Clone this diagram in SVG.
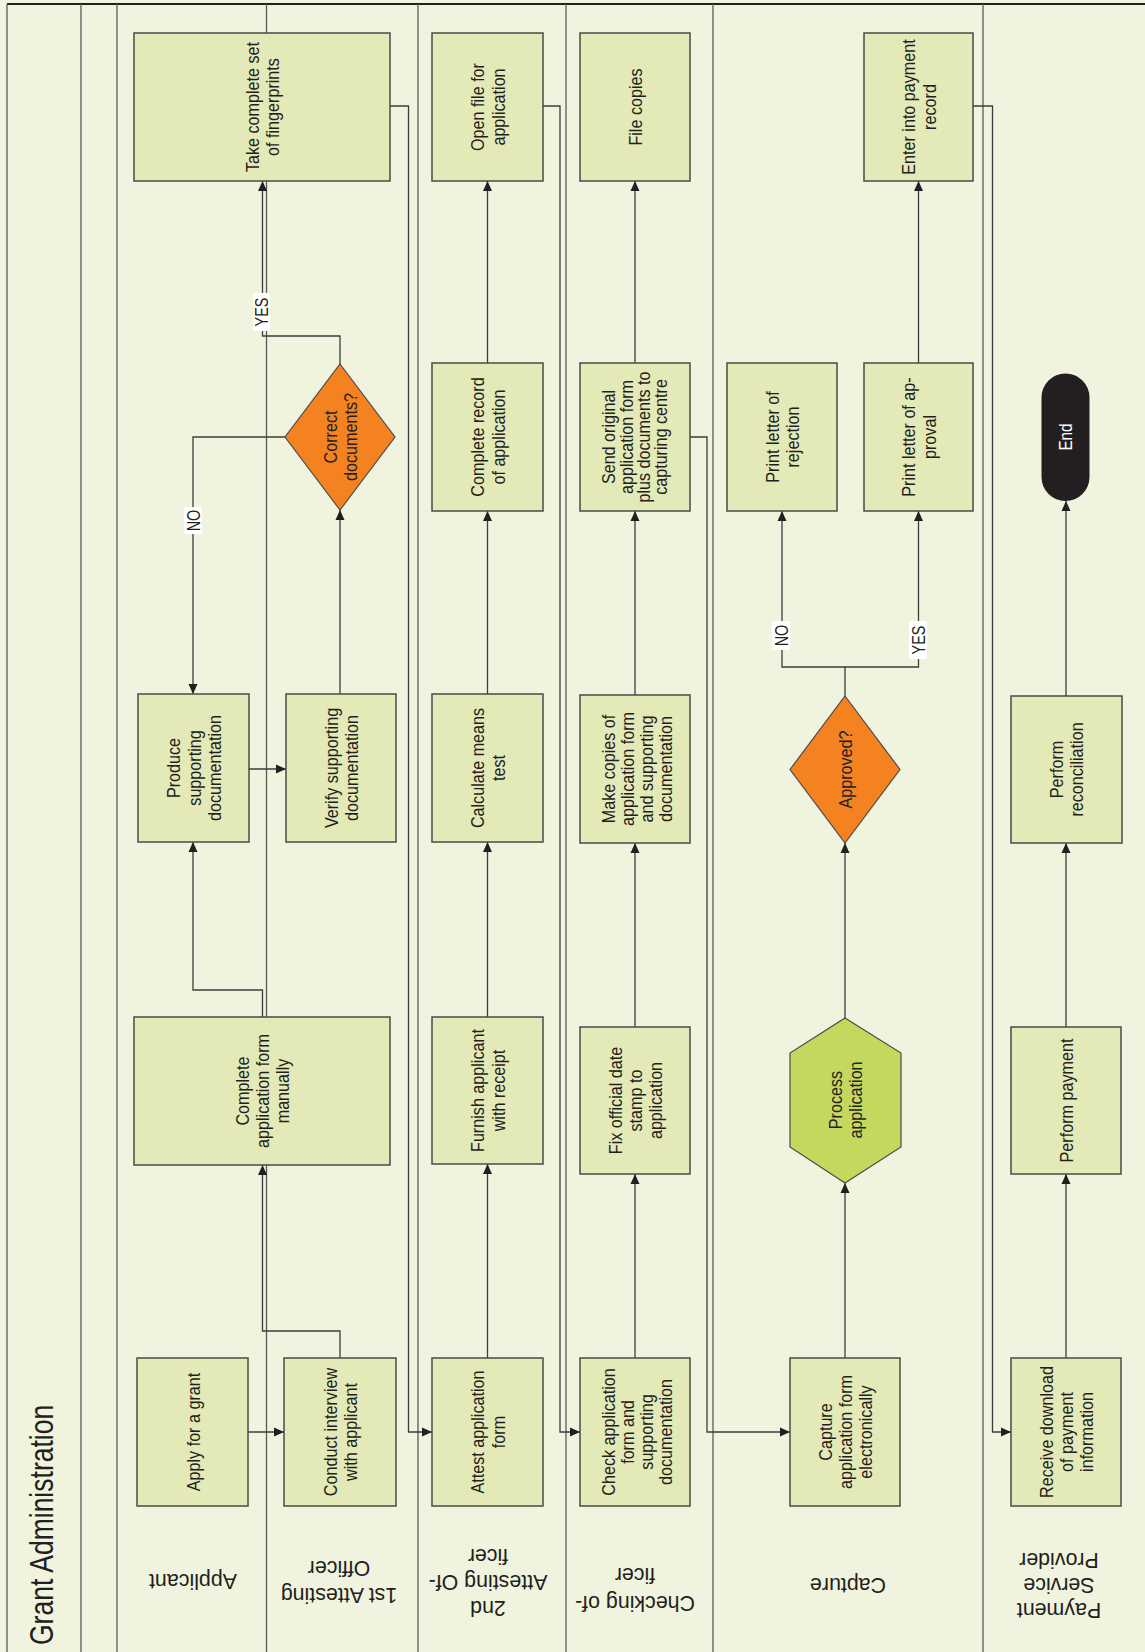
<svg xmlns="http://www.w3.org/2000/svg" width="1145" height="1652" viewBox="0 0 1145 1652">
<style>
.bg{fill:#f0f4de}
.lane{stroke:#5a5a5a;stroke-width:1.3;fill:none}
.box{fill:#e3e9b7;stroke:#4a4a4a;stroke-width:1.5}
.dec{fill:#f58220;stroke:#4a4a4a;stroke-width:1.2}
.hex{fill:#c5d85e;stroke:#4a4a4a;stroke-width:1.2}
.end{fill:#231f20}
.nt{font-family:"Liberation Sans",Arial,sans-serif;font-size:19px;fill:#231f20;text-anchor:middle}
.et{font-family:"Liberation Sans",Arial,sans-serif;font-size:18px;fill:#ffffff;text-anchor:middle}
.lt{font-family:"Liberation Sans",Arial,sans-serif;font-size:23px;fill:#231f20;text-anchor:middle}
.tt{font-family:"Liberation Sans",Arial,sans-serif;font-size:34px;fill:#231f20}
.cl{font-family:"Liberation Sans",Arial,sans-serif;font-size:18px;fill:#231f20;text-anchor:middle}
.cn{fill:none;stroke:#3c3c3c;stroke-width:1.3;marker-end:url(#arr)}
.lb{fill:#ffffff}
</style>
<defs>
<marker id="arr" viewBox="0 0 10 10" refX="10" refY="5" markerWidth="10" markerHeight="10" markerUnits="userSpaceOnUse" orient="auto">
<path d="M0,0.5 L10,5 L0,9.5 z" fill="#231f20"/>
</marker>
</defs>
<rect class="bg" x="0" y="0" width="1145" height="1652"/>

<g id="lanes">
<line class="lane" x1="7" y1="4" x2="1145" y2="4" style="stroke:#231f20;stroke-width:2"/>
<line class="lane" x1="7" y1="4" x2="7" y2="1652"/>
<line class="lane" x1="81" y1="4" x2="81" y2="1652"/>
<line class="lane" x1="117" y1="4" x2="117" y2="1652"/>
<line class="lane" x1="266.5" y1="4" x2="266.5" y2="1652"/>
<line class="lane" x1="418" y1="4" x2="418" y2="1652"/>
<line class="lane" x1="566" y1="4" x2="566" y2="1652"/>
<line class="lane" x1="713" y1="4" x2="713" y2="1652"/>
<line class="lane" x1="983" y1="4" x2="983" y2="1652"/>
</g>

<g id="title">
<text class="tt" transform="translate(52.5,1645) rotate(-90) scale(0.78,1)">Grant Administration</text>
</g>

<g id="lane-labels">
<text class="lt" transform="translate(193,1582) rotate(180) scale(0.93,1)"><tspan x="0" y="8">Applicant</tspan></text>
<text class="lt" transform="translate(339,1596) rotate(180) scale(0.93,1)"><tspan x="0" y="8">1st Attesting</tspan><tspan x="0" y="35">Officer</tspan></text>
<text class="lt" transform="translate(488,1609) rotate(180) scale(0.93,1)"><tspan x="0" y="8">2nd</tspan><tspan x="0" y="34">Attesting Of-</tspan><tspan x="0" y="60">ficer</tspan></text>
<text class="lt" transform="translate(635,1604) rotate(180) scale(0.93,1)"><tspan x="0" y="8">Checking of-</tspan><tspan x="0" y="36">ficer</tspan></text>
<text class="lt" transform="translate(848,1586) rotate(180) scale(0.93,1)"><tspan x="0" y="8">Capture</tspan></text>
<text class="lt" transform="translate(1059,1611) rotate(180) scale(0.93,1)"><tspan x="0" y="8">Payment</tspan><tspan x="0" y="33">Service</tspan><tspan x="0" y="58">Provider</tspan></text>
</g>

<g id="connectors">
<path class="cn" d="M248,1432 H284"/>
<path class="cn" d="M340,1358 V1331 H262.5 V1165"/>
<path class="cn" d="M262.5,1017 V990 H193 V842"/>
<path class="cn" d="M249,769 H286"/>
<path class="cn" d="M340,694 V510"/>
<path class="cn" d="M285,437 H193 V694"/>
<path class="cn" d="M340,364 V336 H262.5 V181"/>
<path class="cn" d="M390,106 H408.5 V1432 H432"/>
<path class="cn" d="M487.5,1358 V1164"/>
<path class="cn" d="M487.5,1017 V842"/>
<path class="cn" d="M487.5,694 V511"/>
<path class="cn" d="M487.5,363 V181"/>
<path class="cn" d="M543,106 H560 V1432 H580"/>
<path class="cn" d="M635,1358 V1174"/>
<path class="cn" d="M635,1027 V843"/>
<path class="cn" d="M635,695 V511"/>
<path class="cn" d="M635,363 V181"/>
<path class="cn" d="M690,437 H707 V1432 H790"/>
<path class="cn" d="M845,1358 V1183"/>
<path class="cn" d="M845,1018 V843"/>
<path class="cn" d="M845,696 V667 H782 V511"/>
<path class="cn" d="M845,667 H918.5 V511"/>
<path class="cn" d="M918.5,363 V181"/>
<path class="cn" d="M973,106 H992.5 V1432 H1011"/>
<path class="cn" d="M1066,1358 V1174"/>
<path class="cn" d="M1066,1027 V843"/>
<path class="cn" d="M1066,696 V501"/>
<rect class="lb" x="253" y="293" width="17" height="38"/>
<text class="cl" transform="translate(261.5,312) rotate(-90) scale(0.8,1)"><tspan x="0" y="6.5">YES</tspan></text>
<rect class="lb" x="184" y="507" width="18" height="27"/>
<text class="cl" transform="translate(193,520.5) rotate(-90) scale(0.8,1)"><tspan x="0" y="6.5">NO</tspan></text>
<rect class="lb" x="772" y="621" width="18" height="29"/>
<text class="cl" transform="translate(781,635.5) rotate(-90) scale(0.8,1)"><tspan x="0" y="6.5">NO</tspan></text>
<rect class="lb" x="909" y="621" width="18" height="38"/>
<text class="cl" transform="translate(918,640) rotate(-90) scale(0.8,1)"><tspan x="0" y="6.5">YES</tspan></text>
</g>

<g id="n-apply"><rect class="box" x="137" y="1358" width="111" height="148"/>
<text class="nt" transform="translate(192.5,1432) rotate(-90) scale(0.85,1)"><tspan x="0" y="7">Apply for a grant</tspan></text></g>

<g id="n-conduct"><rect class="box" x="284" y="1358" width="112" height="148"/>
<text class="nt" transform="translate(340,1432) rotate(-90) scale(0.85,1)"><tspan x="0" y="-3.25">Conduct interview</tspan><tspan x="0" y="17.25">with applicant</tspan></text></g>

<g id="n-complete-form"><rect class="box" x="134" y="1017" width="256" height="148"/>
<text class="nt" transform="translate(262,1091) rotate(-90) scale(0.85,1)"><tspan x="0" y="-13.5">Complete</tspan><tspan x="0" y="7">application form</tspan><tspan x="0" y="27.5">manually</tspan></text></g>

<g id="n-produce"><rect class="box" x="138" y="694" width="111" height="148"/>
<text class="nt" transform="translate(193.5,768) rotate(-90) scale(0.85,1)"><tspan x="0" y="-13.5">Produce</tspan><tspan x="0" y="7">supporting</tspan><tspan x="0" y="27.5">documentation</tspan></text></g>

<g id="n-verify"><rect class="box" x="286" y="694" width="110" height="148"/>
<text class="nt" transform="translate(341,768) rotate(-90) scale(0.85,1)"><tspan x="0" y="-3.25">Verify supporting</tspan><tspan x="0" y="17.25">documentation</tspan></text></g>

<g id="n-correct"><polygon class="dec" points="340,364 395,437 340,510 285,437"/>
<text class="nt" transform="translate(340,437) rotate(-90) scale(0.85,1)"><tspan x="0" y="-3.25">Correct</tspan><tspan x="0" y="17.25">documents?</tspan></text></g>

<g id="n-fingerprints"><rect class="box" x="134" y="33" width="256" height="148"/>
<text class="nt" transform="translate(262,107) rotate(-90) scale(0.85,1)"><tspan x="0" y="-3.25">Take complete set</tspan><tspan x="0" y="17.25">of fingerprints</tspan></text></g>

<g id="n-attest"><rect class="box" x="432" y="1358" width="111" height="148"/>
<text class="nt" transform="translate(487.5,1432) rotate(-90) scale(0.85,1)"><tspan x="0" y="-3.25">Attest application</tspan><tspan x="0" y="17.25">form</tspan></text></g>

<g id="n-furnish"><rect class="box" x="432" y="1017" width="111" height="147"/>
<text class="nt" transform="translate(487.5,1090.5) rotate(-90) scale(0.85,1)"><tspan x="0" y="-3.25">Furnish applicant</tspan><tspan x="0" y="17.25">with receipt</tspan></text></g>

<g id="n-calculate"><rect class="box" x="432" y="694" width="111" height="148"/>
<text class="nt" transform="translate(487.5,768) rotate(-90) scale(0.85,1)"><tspan x="0" y="-3.25">Calculate means</tspan><tspan x="0" y="17.25">test</tspan></text></g>

<g id="n-record"><rect class="box" x="432" y="363" width="111" height="148"/>
<text class="nt" transform="translate(487.5,437) rotate(-90) scale(0.85,1)"><tspan x="0" y="-3.25">Complete record</tspan><tspan x="0" y="17.25">of application</tspan></text></g>

<g id="n-openfile"><rect class="box" x="432" y="33" width="111" height="148"/>
<text class="nt" transform="translate(487.5,107) rotate(-90) scale(0.85,1)"><tspan x="0" y="-3.25">Open file for</tspan><tspan x="0" y="17.25">application</tspan></text></g>

<g id="n-check"><rect class="box" x="580" y="1358" width="110" height="148"/>
<text class="nt" transform="translate(635,1432) rotate(-90) scale(0.85,1)"><tspan x="0" y="-20">Check application</tspan><tspan x="0" y="-1">form and</tspan><tspan x="0" y="18">supporting</tspan><tspan x="0" y="37">documentation</tspan></text></g>

<g id="n-fix"><rect class="box" x="580" y="1027" width="110" height="147"/>
<text class="nt" transform="translate(635,1100.5) rotate(-90) scale(0.85,1)"><tspan x="0" y="-13.5">Fix official date</tspan><tspan x="0" y="7">stamp to</tspan><tspan x="0" y="27.5">application</tspan></text></g>

<g id="n-copies"><rect class="box" x="580" y="695" width="110" height="148"/>
<text class="nt" transform="translate(635,769) rotate(-90) scale(0.85,1)"><tspan x="0" y="-20">Make copies of</tspan><tspan x="0" y="-1">application form</tspan><tspan x="0" y="18">and supporting</tspan><tspan x="0" y="37">documentation</tspan></text></g>

<g id="n-send"><rect class="box" x="580" y="363" width="110" height="148"/>
<text class="nt" transform="translate(635,437) rotate(-90) scale(0.85,1)"><tspan x="0" y="-20">Send original</tspan><tspan x="0" y="-2.5">application form</tspan><tspan x="0" y="15">plus documents to</tspan><tspan x="0" y="32.5">capturing centre</tspan></text></g>

<g id="n-filecopies"><rect class="box" x="580" y="33" width="110" height="148"/>
<text class="nt" transform="translate(635,107) rotate(-90) scale(0.85,1)"><tspan x="0" y="7">File copies</tspan></text></g>

<g id="n-capture"><rect class="box" x="790" y="1358" width="110" height="148"/>
<text class="nt" transform="translate(845,1432) rotate(-90) scale(0.85,1)"><tspan x="0" y="-13.5">Capture</tspan><tspan x="0" y="7">application form</tspan><tspan x="0" y="27.5">electronically</tspan></text></g>

<g id="n-process"><polygon class="hex" points="845,1018 901,1053 901,1147 845,1183 790,1147 790,1053"/>
<text class="nt" transform="translate(845,1100) rotate(-90) scale(0.85,1)"><tspan x="0" y="-3.25">Process</tspan><tspan x="0" y="17.25">application</tspan></text></g>

<g id="n-approved"><polygon class="dec" points="845,696 900,769.5 845,843 790,769.5"/>
<text class="nt" transform="translate(845,769.5) rotate(-90) scale(0.85,1)"><tspan x="0" y="7">Approved?</tspan></text></g>

<g id="n-rejection"><rect class="box" x="727" y="363" width="110" height="148"/>
<text class="nt" transform="translate(782,437) rotate(-90) scale(0.85,1)"><tspan x="0" y="-3.25">Print letter of</tspan><tspan x="0" y="17.25">rejection</tspan></text></g>

<g id="n-approval"><rect class="box" x="864" y="363" width="109" height="148"/>
<text class="nt" transform="translate(918.5,437) rotate(-90) scale(0.85,1)"><tspan x="0" y="-3.25">Print letter of ap-</tspan><tspan x="0" y="17.25">proval</tspan></text></g>

<g id="n-enter"><rect class="box" x="864" y="33" width="109" height="148"/>
<text class="nt" transform="translate(918.5,107) rotate(-90) scale(0.85,1)"><tspan x="0" y="-3.25">Enter into payment</tspan><tspan x="0" y="17.25">record</tspan></text></g>

<g id="n-receive"><rect class="box" x="1011" y="1358" width="110" height="148"/>
<text class="nt" transform="translate(1066,1432) rotate(-90) scale(0.85,1)"><tspan x="0" y="-13.5">Receive download</tspan><tspan x="0" y="7">of payment</tspan><tspan x="0" y="27.5">information</tspan></text></g>

<g id="n-payment"><rect class="box" x="1011" y="1027" width="110" height="147"/>
<text class="nt" transform="translate(1066,1100.5) rotate(-90) scale(0.85,1)"><tspan x="0" y="7">Perform payment</tspan></text></g>

<g id="n-reconcile"><rect class="box" x="1011" y="696" width="111" height="147"/>
<text class="nt" transform="translate(1066,769.5) rotate(-90) scale(0.85,1)"><tspan x="0" y="-3.25">Perform</tspan><tspan x="0" y="17.25">reconciliation</tspan></text></g>

<g id="n-end"><rect class="end" x="1041.5" y="373.5" width="48" height="127.5" rx="24" ry="24"/>
<text class="et" transform="translate(1065.5,437) rotate(-90) scale(0.85,1)"><tspan x="0" y="6.5">End</tspan></text></g>
</svg>
